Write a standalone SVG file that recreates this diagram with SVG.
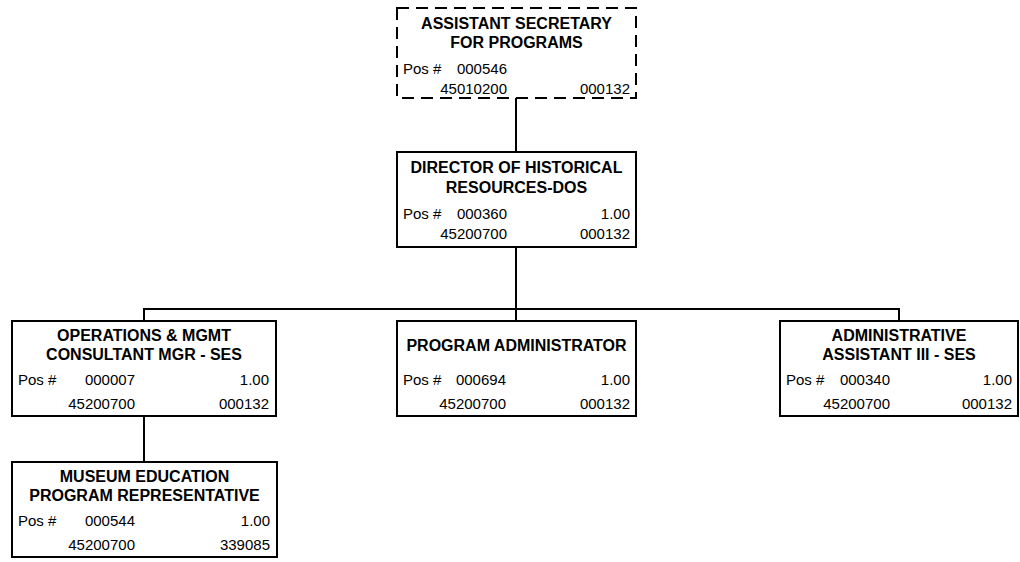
<svg xmlns="http://www.w3.org/2000/svg" width="1020" height="562" viewBox="0 0 1020 562">
<style>
.box{fill:#fff;stroke:#000;stroke-width:2}
.dash{fill:#fff;stroke:#000;stroke-width:2;stroke-dasharray:12 7}
.t{font-family:"Liberation Sans",Arial,sans-serif;font-size:16px;font-weight:bold;text-anchor:middle;fill:#000}
.r{font-family:"Liberation Sans",Arial,sans-serif;font-size:15px;fill:#000}
.e{text-anchor:end}
.conn{stroke:#000;stroke-width:2;fill:none}
</style>
<rect width="1020" height="562" fill="#fff"/>
<g id="connectors">
<line class="conn" x1="516" y1="98" x2="516" y2="152"/>
<line class="conn" x1="516" y1="247" x2="516" y2="321"/>
<polyline class="conn" points="144,321 144,309 899,309 899,321"/>
<line class="conn" x1="144" y1="416" x2="144" y2="462"/>
</g>
<g id="asst-secretary">
<rect class="dash" x="397" y="8" width="239" height="90"/>
<text class="t" x="516.5" y="28.5">ASSISTANT SECRETARY</text>
<text class="t" x="516.5" y="47.5">FOR PROGRAMS</text>
<text class="r" x="403" y="73.5">Pos #</text>
<text class="r e" x="507" y="73.5">000546</text>
<text class="r e" x="507" y="93.5">45010200</text>
<text class="r e" x="630" y="93.5">000132</text>
</g>
<g id="director">
<rect class="box" x="397" y="152" width="239" height="95"/>
<text class="t" x="516.5" y="172.5">DIRECTOR OF HISTORICAL</text>
<text class="t" x="516.5" y="192.5">RESOURCES-DOS</text>
<text class="r" x="403" y="218.5">Pos #</text>
<text class="r e" x="507" y="218.5">000360</text>
<text class="r e" x="630" y="218.5">1.00</text>
<text class="r e" x="507" y="238.5">45200700</text>
<text class="r e" x="630" y="238.5">000132</text>
</g>
<g id="ops-mgmt">
<rect class="box" x="12" y="321" width="264" height="95"/>
<text class="t" x="144" y="340.5">OPERATIONS &amp; MGMT</text>
<text class="t" x="144" y="359.5">CONSULTANT MGR - SES</text>
<text class="r" x="18" y="384.5">Pos #</text>
<text class="r e" x="135" y="384.5">000007</text>
<text class="r e" x="269" y="384.5">1.00</text>
<text class="r e" x="135" y="408.5">45200700</text>
<text class="r e" x="269" y="408.5">000132</text>
</g>
<g id="program-admin">
<rect class="box" x="397" y="321" width="239" height="95"/>
<text class="t" x="516.5" y="350.5">PROGRAM ADMINISTRATOR</text>
<text class="r" x="403" y="384.5">Pos #</text>
<text class="r e" x="506" y="384.5">000694</text>
<text class="r e" x="630" y="384.5">1.00</text>
<text class="r e" x="506" y="408.5">45200700</text>
<text class="r e" x="630" y="408.5">000132</text>
</g>
<g id="admin-assistant">
<rect class="box" x="780" y="321" width="238" height="95"/>
<text class="t" x="899" y="340.5">ADMINISTRATIVE</text>
<text class="t" x="899" y="359.5">ASSISTANT III - SES</text>
<text class="r" x="786" y="384.5">Pos #</text>
<text class="r e" x="890" y="384.5">000340</text>
<text class="r e" x="1012" y="384.5">1.00</text>
<text class="r e" x="890" y="408.5">45200700</text>
<text class="r e" x="1012" y="408.5">000132</text>
</g>
<g id="museum-ed">
<rect class="box" x="12" y="462" width="265" height="95"/>
<text class="t" x="144.5" y="481.5">MUSEUM EDUCATION</text>
<text class="t" x="144.5" y="500.5">PROGRAM REPRESENTATIVE</text>
<text class="r" x="18" y="525.5">Pos #</text>
<text class="r e" x="135" y="525.5">000544</text>
<text class="r e" x="270" y="525.5">1.00</text>
<text class="r e" x="135" y="549.5">45200700</text>
<text class="r e" x="270" y="549.5">339085</text>
</g>
</svg>
